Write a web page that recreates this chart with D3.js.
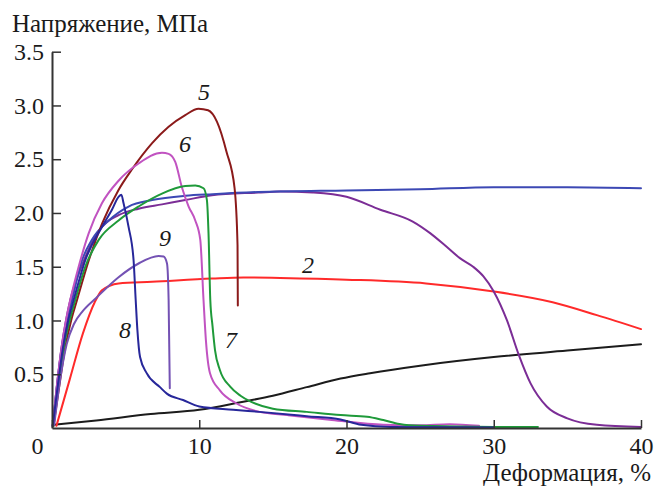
<!DOCTYPE html>
<html><head><meta charset="utf-8">
<script src="https://cdn.jsdelivr.net/npm/d3@7"></script>
<style>html,body{margin:0;padding:0;background:#fff;}svg{display:block;}
text{font-family:"Liberation Serif","Times New Roman",Times,"Noto Serif","DejaVu Serif",FreeSerif,serif;}</style>
</head><body>
<svg id="chart" width="656" height="486"></svg>
<script>
// Data: strain (%) vs stress (MPa)
const xTicks = [0, 10, 20, 30, 40];
const yTicks = [0.5, 1.0, 1.5, 2.0, 2.5, 3.0, 3.5];
const yTitle = "Напряжение, МПа";
const xTitle = "Деформация, %";

const curveBlack = [[0.1,0.03],[3,0.07],[6.7,0.13],[10,0.17],[12.8,0.24],[15,0.30],[17.3,0.38],[19.6,0.46],[21.6,0.51],[25,0.58],[30,0.66],[35,0.72],[40,0.78]];
const curve2 = [[0.3,0.02],[1.2,0.45],[2.1,0.88],[2.9,1.17],[3.39,1.28],[4.52,1.345],[6.79,1.36],[10.86,1.39],[13,1.40],[15.5,1.395],[20,1.38],[25.4,1.345],[30,1.27],[34,1.17],[37,1.05],[40,0.92]];
const curveBlue = [[0.05,0.02],[0.3,0.35],[0.7,0.78],[1.0,1.0],[1.36,1.19],[2.04,1.56],[2.71,1.75],[3.85,1.93],[5.2,2.06],[6.8,2.12],[9.05,2.16],[10.9,2.175],[14,2.195],[20,2.21],[25,2.22],[30,2.24],[35,2.24],[40,2.23]];
const curvePurple = [[0.05,0.02],[0.3,0.35],[0.65,0.75],[0.95,1.0],[1.24,1.19],[2.0,1.5],[3.39,1.87],[4.52,1.98],[5.88,2.04],[7.47,2.08],[9.05,2.12],[10.86,2.165],[14,2.19],[15.5,2.2],[17.7,2.19],[20,2.15],[22.3,2.03],[24.5,1.92],[25.7,1.81],[26.8,1.685],[27.7,1.58],[28.6,1.50],[29.3,1.41],[30,1.27],[30.9,1.00],[31.7,0.68],[32.5,0.415],[33.6,0.20],[35,0.09],[37,0.03],[40,0.01]];
const curve5 = [[0.1,0.02],[0.45,0.35],[0.9,0.75],[1.3,1.0],[1.7,1.19],[2.5,1.56],[3.4,1.90],[4.5,2.21],[5.4,2.40],[6.8,2.65],[7.9,2.80],[9.05,2.91],[9.95,2.97],[10.6,2.955],[11.2,2.85],[11.85,2.57],[12.4,2.23],[12.6,1.70],[12.62,1.14]];
const curve6 = [[0.05,0.02],[0.3,0.35],[0.65,0.75],[0.95,1.0],[1.24,1.19],[1.81,1.50],[2.49,1.81],[3.39,2.09],[4.52,2.30],[5.88,2.46],[7.47,2.56],[7.92,2.55],[8.37,2.475],[8.82,2.24],[9.28,2.06],[9.73,1.93],[10.07,1.75],[10.29,1.19],[10.45,0.82],[10.73,0.51],[11.4,0.35],[12.5,0.23],[14.1,0.15],[16,0.12],[19,0.075],[22.5,0.03],[25,0.025],[27,0.035],[29,0.02]];
const curve7 = [[0.1,0.02],[0.4,0.35],[0.8,0.75],[1.2,1.0],[1.58,1.19],[2.26,1.50],[3.17,1.75],[4.52,1.93],[5.88,2.06],[7.47,2.18],[9.05,2.25],[9.73,2.255],[10.29,2.23],[10.52,2.12],[10.63,1.81],[10.75,1.19],[10.9,0.95],[11.07,0.725],[11.4,0.54],[12.1,0.385],[12.8,0.30],[13.5,0.245],[15,0.18],[17.3,0.15],[19.6,0.12],[21.4,0.105],[22.5,0.074],[23.6,0.037],[25,0.02],[30,0.01],[33,0.01]];
const curve8 = [[0.05,0.02],[0.35,0.35],[0.75,0.75],[1.1,1.0],[1.47,1.19],[2.26,1.56],[3.39,1.87],[4.07,2.03],[4.52,2.15],[4.71,2.17],[4.86,2.09],[5.2,1.87],[5.54,1.56],[5.68,1.2],[5.8,0.91],[5.98,0.66],[6.43,0.51],[7.33,0.38],[7.8,0.32],[8.9,0.26],[10,0.20],[12.3,0.17],[14.1,0.15],[17.3,0.11],[19.6,0.08],[21,0.03],[23,0.01],[30,0.005]];
const curve9 = [[0.15,0.03],[0.5,0.4],[1.0,0.78],[1.5,0.97],[2.1,1.09],[3.0,1.21],[4.5,1.40],[5.88,1.53],[7.24,1.60],[7.58,1.595],[7.81,1.53],[7.92,1.19],[8.0,0.37]];

const curveLabels = [
  {text:"5", x:10.32, y:3.05},
  {text:"6", x:9.03, y:2.565},
  {text:"9", x:7.67, y:1.69},
  {text:"8", x:4.96, y:0.836},
  {text:"7", x:12.16, y:0.743},
  {text:"2", x:17.39, y:1.44}
];

const series = [
  {data: curveBlack, color:"#1c1c1c"},
  {data: curve2, color:"#ff2a2a"},
  {data: curvePurple, color:"#7b2d96"},
  {data: curveBlue, color:"#3c48b4"},
  {data: curve5, color:"#8b1a1a"},
  {data: curve6, color:"#c153c1"},
  {data: curve7, color:"#1f9a3a"},
  {data: curve9, color:"#7452b4"},
  {data: curve8, color:"#27279a"}
];

const svg = d3.select("#chart");
const x = d3.scaleLinear().domain([0, 40]).range([52, 641]);
const y = d3.scaleLinear().domain([0, 3.5]).range([428, 51.7]);
const font = "\"Liberation Serif\", \"Times New Roman\", Times, \"Noto Serif\", \"DejaVu Serif\", FreeSerif, serif";
const axisColor = "#333";

const line = d3.line().x(d => x(d[0])).y(d => y(d[1])).curve(d3.curveMonotoneX);

svg.append("g").selectAll("path").data(series).join("path")
  .attr("d", d => line(d.data))
  .attr("fill", "none")
  .attr("stroke", d => d.color)
  .attr("stroke-width", 2)
  .attr("stroke-linejoin", "round")
  .attr("stroke-linecap", "round");

const gx = svg.append("g").attr("transform", "translate(0,428)")
  .call(d3.axisBottom(x).tickValues(xTicks).tickFormat(d3.format("d")).tickSizeInner(-8).tickSizeOuter(0).tickPadding(9));
const gy = svg.append("g").attr("transform", "translate(52,0)")
  .call(d3.axisLeft(y).tickValues(yTicks).tickFormat(d3.format(".1f")).tickSizeInner(-9).tickSizeOuter(0).tickPadding(8));

[gx, gy].forEach(g => {
  g.attr("font-family", font).attr("font-size", 24);
  g.selectAll("path.domain").attr("stroke", axisColor).attr("stroke-width", 2);
  g.selectAll(".tick line").attr("stroke", axisColor).attr("stroke-width", 1.5);
  g.selectAll(".tick text").attr("fill", "#1a1a1a").attr("font-family", font).attr("font-size", 24);
});
gx.selectAll(".tick text").filter(d => d === 0).attr("dx", -15);

svg.append("text").attr("x", 12).attr("y", 32).text(yTitle)
  .attr("font-family", font).attr("font-size", 25).attr("fill", "#1a1a1a");
svg.append("text").attr("x", 651).attr("y", 481).attr("text-anchor", "end").text(xTitle)
  .attr("font-family", font).attr("font-size", 25).attr("fill", "#1a1a1a");

svg.append("g").selectAll("text").data(curveLabels).join("text")
  .attr("x", d => x(d.x)).attr("y", d => y(d.y))
  .attr("text-anchor", "middle")
  .attr("font-family", font).attr("font-size", 24).attr("font-style", "italic")
  .attr("fill", "#1a1a1a")
  .text(d => d.text);
</script>
</body></html>
